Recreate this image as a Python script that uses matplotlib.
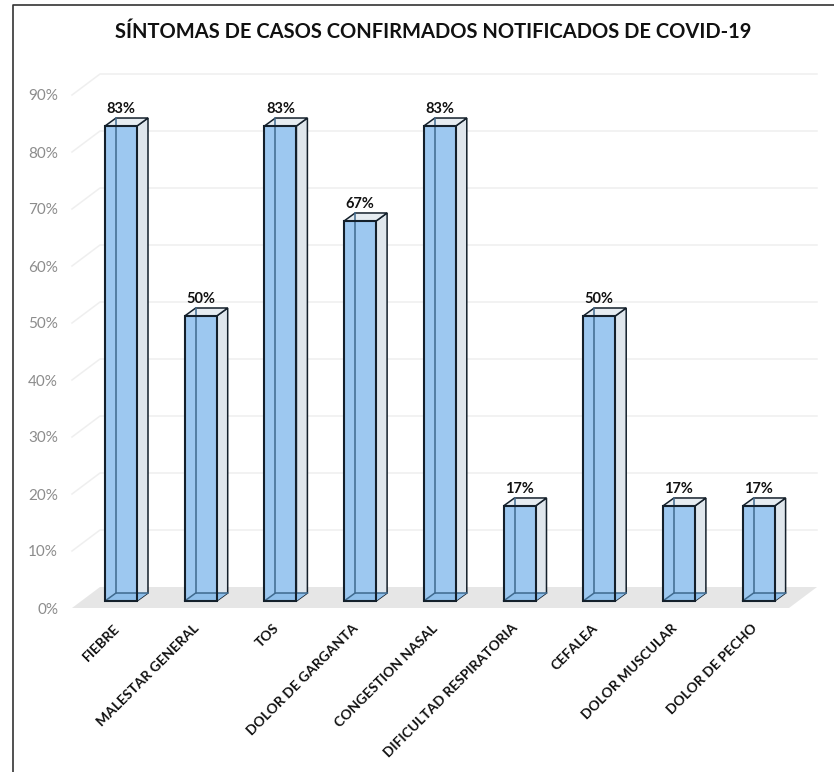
import matplotlib
matplotlib.use("Agg")
import matplotlib.pyplot as plt
from matplotlib.lines import Line2D
from matplotlib.patches import Polygon, Rectangle
from matplotlib.transforms import ScaledTranslation

plt.rcParams['font.family'] = ['Lato', 'DejaVu Sans']

categories = ['FIEBRE', 'MALESTAR GENERAL', 'TOS', 'DOLOR DE GARGANTA', 'CONGESTION NASAL',
              'DIFICULTAD RESPIRATORIA', 'CEFALEA', 'DOLOR MUSCULAR', 'DOLOR DE PECHO']
values = [83.33, 50, 83.33, 66.67, 83.33, 16.67, 50, 16.67, 16.67]
labels = ['83%', '50%', '83%', '67%', '83%', '17%', '50%', '17%', '17%']
y_ticks = [0, 10, 20, 30, 40, 50, 60, 70, 80, 90]

W, H = 834, 772
PX_X = 79.7   # pixels per category
PX_Y = 5.7    # pixels per percent

fig = plt.figure(figsize=(W / 100, H / 100), dpi=100)
left, right, top, bottom = 72, 817, 60, 608
ax = fig.add_axes([left / W, 1 - bottom / H, (right - left) / W, (bottom - top) / H])
ax.set_xlim((left - 121) / PX_X, (right - 121) / PX_X)
ax.set_ylim(0, (bottom - top) / PX_Y)
for s in ax.spines.values():
    s.set_visible(False)

# fake 3d offsets, in data units
wall_dx, wall_dy = 28 / PX_X, 21 / PX_Y
bar_lift = 7 / PX_Y
bar_dx, bar_dy = 11 / PX_X, 8 / PX_Y
half = 16 / PX_X
x0, x1 = ax.get_xlim()
x1_front = x1 - wall_dx

# back wall grid and the floor
for t in y_ticks[1:]:
    ax.plot([x0, x0 + wall_dx, x1], [t, t + wall_dy, t + wall_dy],
            color='#efefef', lw=1.1, zorder=1, clip_on=False)
ax.add_patch(Polygon([(x0, 0), (x1_front, 0), (x1, wall_dy), (x0 + wall_dx, wall_dy)],
                     closed=True, fc='#e6e6e6', ec='none', zorder=1))

edge = '#14202b'
for i, v in enumerate(values):
    l, r = i - half, i + half
    b, t = bar_lift, bar_lift + v
    dx, dy = bar_dx, bar_dy
    # side and top
    ax.add_patch(Polygon([(r, b), (r + dx, b + dy), (r + dx, t + dy), (r, t)],
                         fc='#dfe6ec', ec=edge, lw=1.1, zorder=2))
    ax.add_patch(Polygon([(l, t), (l + dx, t + dy), (r + dx, t + dy), (r, t)],
                         fc='#e6ecf1', ec=edge, lw=1.1, zorder=2))
    # front, see-through with back edges showing
    ax.add_patch(Rectangle((l, b), r - l, v, fc='#9dc8f0', ec='none', zorder=3))
    ax.add_patch(Polygon([(l, b), (l + dx, b + dy), (r + dx, b + dy), (r, b)],
                         fc='#8fbfea', ec='none', zorder=3))
    ax.plot([l + dx, l + dx], [b + dy, t + dy], color='#3f6a8e', lw=1.1, zorder=4)
    ax.plot([l, l + dx, r + dx], [b, b + dy, b + dy], color='#3f6a8e', lw=1.1, zorder=4)
    ax.add_patch(Rectangle((l, b), r - l, v, fc='none', ec=edge, lw=1.5, zorder=5))
    ax.text(i, t + dy + 0.4, labels[i], ha='center', va='bottom',
            fontsize=10.5, fontweight='bold', color='#111111', zorder=6)

ax.set_yticks(y_ticks)
ax.set_yticklabels([f'{t}%' for t in y_ticks])
ax.tick_params(axis='y', length=0, pad=10, labelsize=11, labelcolor='#8c8c8c')
ax.set_xticks(range(len(categories)))
ax.set_xticklabels(categories, rotation=45, ha='right', rotation_mode='anchor')
ax.tick_params(axis='x', length=0, pad=10, labelsize=10, labelcolor='#111111')
shift = ScaledTranslation(-8 / 100, 0, fig.dpi_scale_trans)
for lab in ax.get_xticklabels():
    lab.set_fontweight('bold')
    lab.set_transform(lab.get_transform() + shift)

fig.text(433 / W, 1 - 32 / H, 'SÍNTOMAS DE CASOS CONFIRMADOS NOTIFICADOS DE COVID-19',
         ha='center', va='center', fontsize=14.5, fontweight='bold', color='#111111')

# border only on top and left, the rest is cropped away
fig.add_artist(Line2D([12.5 / W, 12.5 / W, 1], [0, 1 - 5 / H, 1 - 5 / H],
                      transform=fig.transFigure, color='#333333', lw=1.2))

fig.savefig('out.png', dpi=100)
